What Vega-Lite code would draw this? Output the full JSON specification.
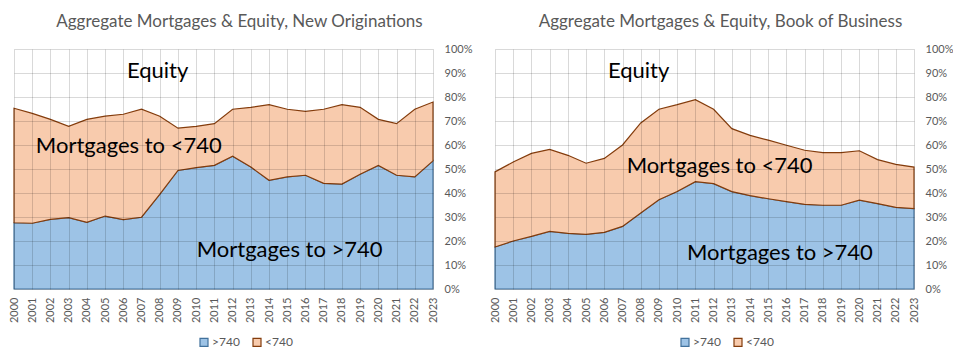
{
  "$schema": "https://vega.github.io/schema/vega-lite/v6.json",
  "padding": {"left": 8, "top": 13, "right": 0, "bottom": 0},
  "background": "white",
  "datasets": {
    "orig": [
      {"year": 2000, "series": ">740", "value": 27.6}, {"year": 2000, "series": "<740", "value": 47.7},
      {"year": 2001, "series": ">740", "value": 27.4}, {"year": 2001, "series": "<740", "value": 45.8},
      {"year": 2002, "series": ">740", "value": 29.0}, {"year": 2002, "series": "<740", "value": 41.7},
      {"year": 2003, "series": ">740", "value": 29.7}, {"year": 2003, "series": "<740", "value": 38.1},
      {"year": 2004, "series": ">740", "value": 27.8}, {"year": 2004, "series": "<740", "value": 42.9},
      {"year": 2005, "series": ">740", "value": 30.4}, {"year": 2005, "series": "<740", "value": 41.6},
      {"year": 2006, "series": ">740", "value": 28.9}, {"year": 2006, "series": "<740", "value": 43.9},
      {"year": 2007, "series": ">740", "value": 29.9}, {"year": 2007, "series": "<740", "value": 45.0},
      {"year": 2008, "series": ">740", "value": 39.4}, {"year": 2008, "series": "<740", "value": 32.6},
      {"year": 2009, "series": ">740", "value": 49.4}, {"year": 2009, "series": "<740", "value": 17.6},
      {"year": 2010, "series": ">740", "value": 50.6}, {"year": 2010, "series": "<740", "value": 17.2},
      {"year": 2011, "series": ">740", "value": 51.5}, {"year": 2011, "series": "<740", "value": 17.4},
      {"year": 2012, "series": ">740", "value": 55.3}, {"year": 2012, "series": "<740", "value": 19.6},
      {"year": 2013, "series": ">740", "value": 50.8}, {"year": 2013, "series": "<740", "value": 24.9},
      {"year": 2014, "series": ">740", "value": 45.3}, {"year": 2014, "series": "<740", "value": 31.5},
      {"year": 2015, "series": ">740", "value": 46.7}, {"year": 2015, "series": "<740", "value": 28.2},
      {"year": 2016, "series": ">740", "value": 47.4}, {"year": 2016, "series": "<740", "value": 26.6},
      {"year": 2017, "series": ">740", "value": 44.0}, {"year": 2017, "series": "<740", "value": 30.9},
      {"year": 2018, "series": ">740", "value": 43.7}, {"year": 2018, "series": "<740", "value": 33.1},
      {"year": 2019, "series": ">740", "value": 47.8}, {"year": 2019, "series": "<740", "value": 27.9},
      {"year": 2020, "series": ">740", "value": 51.5}, {"year": 2020, "series": "<740", "value": 19.2},
      {"year": 2021, "series": ">740", "value": 47.4}, {"year": 2021, "series": "<740", "value": 21.5},
      {"year": 2022, "series": ">740", "value": 46.7}, {"year": 2022, "series": "<740", "value": 28.2},
      {"year": 2023, "series": ">740", "value": 53.4}, {"year": 2023, "series": "<740", "value": 24.5}
    ],
    "book": [
      {"year": 2000, "series": ">740", "value": 17.5}, {"year": 2000, "series": "<740", "value": 31.3},
      {"year": 2001, "series": ">740", "value": 20.0}, {"year": 2001, "series": "<740", "value": 32.9},
      {"year": 2002, "series": ">740", "value": 21.9}, {"year": 2002, "series": "<740", "value": 34.6},
      {"year": 2003, "series": ">740", "value": 24.0}, {"year": 2003, "series": "<740", "value": 34.2},
      {"year": 2004, "series": ">740", "value": 23.2}, {"year": 2004, "series": "<740", "value": 32.5},
      {"year": 2005, "series": ">740", "value": 22.8}, {"year": 2005, "series": "<740", "value": 29.6},
      {"year": 2006, "series": ">740", "value": 23.6}, {"year": 2006, "series": "<740", "value": 30.8},
      {"year": 2007, "series": ">740", "value": 26.1}, {"year": 2007, "series": "<740", "value": 33.9},
      {"year": 2008, "series": ">740", "value": 31.7}, {"year": 2008, "series": "<740", "value": 37.5},
      {"year": 2009, "series": ">740", "value": 37.2}, {"year": 2009, "series": "<740", "value": 37.7},
      {"year": 2010, "series": ">740", "value": 40.6}, {"year": 2010, "series": "<740", "value": 36.2},
      {"year": 2011, "series": ">740", "value": 44.7}, {"year": 2011, "series": "<740", "value": 34.2},
      {"year": 2012, "series": ">740", "value": 43.9}, {"year": 2012, "series": "<740", "value": 31.0},
      {"year": 2013, "series": ">740", "value": 40.6}, {"year": 2013, "series": "<740", "value": 26.2},
      {"year": 2014, "series": ">740", "value": 38.9}, {"year": 2014, "series": "<740", "value": 25.1},
      {"year": 2015, "series": ">740", "value": 37.6}, {"year": 2015, "series": "<740", "value": 24.4},
      {"year": 2016, "series": ">740", "value": 36.4}, {"year": 2016, "series": "<740", "value": 23.5},
      {"year": 2017, "series": ">740", "value": 35.3}, {"year": 2017, "series": "<740", "value": 22.5},
      {"year": 2018, "series": ">740", "value": 34.9}, {"year": 2018, "series": "<740", "value": 21.9},
      {"year": 2019, "series": ">740", "value": 34.9}, {"year": 2019, "series": "<740", "value": 21.9},
      {"year": 2020, "series": ">740", "value": 37.0}, {"year": 2020, "series": "<740", "value": 20.6},
      {"year": 2021, "series": ">740", "value": 35.6}, {"year": 2021, "series": "<740", "value": 18.3},
      {"year": 2022, "series": ">740", "value": 34.0}, {"year": 2022, "series": "<740", "value": 17.9},
      {"year": 2023, "series": ">740", "value": 33.5}, {"year": 2023, "series": "<740", "value": 17.3}
    ],
    "origLabels": [
      {"year": 2006.2, "pct": 87.9, "label": "Equity"},
      {"year": 2001.2, "pct": 56.8, "label": "Mortgages to <740"},
      {"year": 2010.03, "pct": 13.5, "label": "Mortgages to >740"}
    ],
    "bookLabels": [
      {"year": 2006.2, "pct": 87.9, "label": "Equity"},
      {"year": 2007.23, "pct": 48.2, "label": "Mortgages to <740"},
      {"year": 2010.54, "pct": 11.9, "label": "Mortgages to >740"}
    ]
  },
  "config": {
    "font": "Lato",
    "view": {"stroke": null},
    "axis": {
      "grid": true,
      "gridColor": "#000000",
      "gridOpacity": 0.15,
      "gridWidth": 1,
      "domain": false,
      "ticks": false,
      "labelColor": "#595959",
      "labelFont": "Lato",
      "labelFontSize": 11,
      "labelOverlap": false,
      "zindex": 1
    },
    "legend": {
      "labelColor": "#595959",
      "labelFont": "Lato",
      "labelFontSize": 12,
      "symbolType": "square",
      "symbolSize": 64,
      "symbolStrokeWidth": 1.2,
      "columnPadding": 10,
      "labelOffset": 2
    },
    "title": {"font": "Lato", "fontSize": 17, "fontWeight": "normal", "color": "#595959", "offset": 14, "dy": 2, "dx": 16}
  },
  "spacing": 17,
  "resolve": {"scale": {"color": "independent", "stroke": "independent"}, "legend": {"color": "independent", "stroke": "independent"}},
  "hconcat": [
    {
      "width": 419,
      "height": 240,
      "title": "Aggregate Mortgages & Equity, New Originations",
      "layer": [
        {
          "data": {"name": "orig"},
          "mark": {"type": "area", "strokeWidth": 1.2},
          "encoding": {
            "x": {"field": "year", "type": "quantitative", "scale": {"domain": [2000, 2023], "nice": false, "zero": false},
                  "axis": {"title": null, "grid": true, "tickMinStep": 1, "tickCount": 30, "format": "d", "labelAngle": -90, "labelPadding": 8, "zindex": 1}},
            "y": {"field": "value", "type": "quantitative", "stack": "zero", "scale": {"domain": [0, 100], "nice": false},
                  "axis": {"title": null, "grid": true, "orient": "right", "tickMinStep": 10, "tickCount": 20, "labelExpr": "datum.value + '%'", "labelPadding": 11, "labelAlign": "left", "zindex": 1}},
            "color": {"field": "series", "type": "nominal", "scale": {"domain": [">740", "<740"], "range": ["#9DC3E6", "#F8CBAD"]},
                      "legend": {"title": null, "orient": "none", "direction": "horizontal", "legendX": 184, "legendY": 287}},
            "stroke": {"field": "series", "type": "nominal", "scale": {"domain": [">740", "<740"], "range": ["#41719C", "#843C0C"]},
                      "legend": {"title": null, "orient": "none", "direction": "horizontal", "legendX": 184, "legendY": 287}},
            "order": {"field": "series", "sort": "descending"}
          }
        },
        {
          "data": {"name": "origLabels"},
          "mark": {"type": "text", "align": "left", "baseline": "alphabetic", "fontSize": 22, "color": "#000000", "font": "Lato"},
          "encoding": {
            "x": {"field": "year", "type": "quantitative"},
            "y": {"field": "pct", "type": "quantitative"},
            "text": {"field": "label"}
          }
        }
      ]
    },
    {
      "width": 419,
      "height": 240,
      "title": "Aggregate Mortgages & Equity, Book of Business",
      "layer": [
        {
          "data": {"name": "book"},
          "mark": {"type": "area", "strokeWidth": 1.2},
          "encoding": {
            "x": {"field": "year", "type": "quantitative", "scale": {"domain": [2000, 2023], "nice": false, "zero": false},
                  "axis": {"title": null, "grid": true, "tickMinStep": 1, "tickCount": 30, "format": "d", "labelAngle": -90, "labelPadding": 8, "zindex": 1}},
            "y": {"field": "value", "type": "quantitative", "stack": "zero", "scale": {"domain": [0, 100], "nice": false},
                  "axis": {"title": null, "grid": true, "orient": "right", "tickMinStep": 10, "tickCount": 20, "labelExpr": "datum.value + '%'", "labelPadding": 11, "labelAlign": "left", "zindex": 1}},
            "color": {"field": "series", "type": "nominal", "scale": {"domain": [">740", "<740"], "range": ["#9DC3E6", "#F8CBAD"]},
                      "legend": {"title": null, "orient": "none", "direction": "horizontal", "legendX": 184, "legendY": 287}},
            "stroke": {"field": "series", "type": "nominal", "scale": {"domain": [">740", "<740"], "range": ["#41719C", "#843C0C"]},
                      "legend": {"title": null, "orient": "none", "direction": "horizontal", "legendX": 184, "legendY": 287}},
            "order": {"field": "series", "sort": "descending"}
          }
        },
        {
          "data": {"name": "bookLabels"},
          "mark": {"type": "text", "align": "left", "baseline": "alphabetic", "fontSize": 22, "color": "#000000", "font": "Lato"},
          "encoding": {
            "x": {"field": "year", "type": "quantitative"},
            "y": {"field": "pct", "type": "quantitative"},
            "text": {"field": "label"}
          }
        }
      ]
    }
  ]
}
